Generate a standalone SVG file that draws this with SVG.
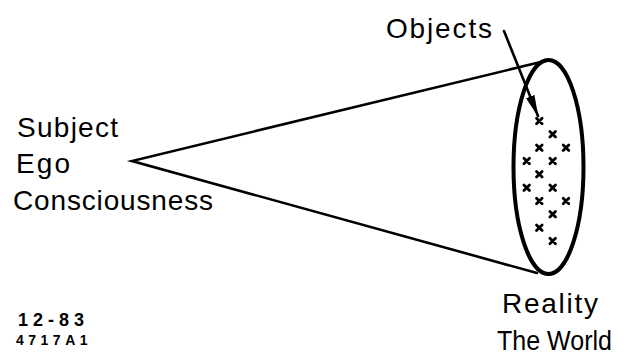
<svg xmlns="http://www.w3.org/2000/svg" width="626" height="358" viewBox="0 0 626 358">
  <style>
    .label { font-family: "Liberation Sans", Arial, sans-serif; font-size: 28px; fill: #000; }
    .code { font-family: "Liberation Sans", Arial, sans-serif; font-weight: bold; fill: #000; }
    .edge { fill: none; stroke: #000; stroke-width: 2.6; stroke-linecap: round; }
    .rim { fill: none; stroke: #000; stroke-width: 4; }
    .obj { stroke: #000; stroke-width: 2.8; stroke-linecap: round; }
  </style>
  <defs>
    <marker id="head" viewBox="0 0 22 9" refX="21" refY="4.5" markerWidth="22" markerHeight="9" markerUnits="userSpaceOnUse" orient="auto">
      <path d="M0,0 L22,4.5 L0,9 Z" fill="#000"/>
    </marker>
    <path id="x" d="M-2.8,-2.8 L2.8,2.8 M-2.8,2.8 L2.8,-2.8"/>
  </defs>
  <rect width="626" height="358" fill="#fff"/>

  <!-- cone sides from the subject to the world, plus the pointer to the objects -->
  <g id="connectors">
    <path class="edge" d="M545,61 L132,161 L537,273"/>
    <path class="edge" d="M504,31 L538,116" marker-end="url(#head)"/>
  </g>

  <g id="subject">
    <text class="label" x="17" y="137" textLength="101" lengthAdjust="spacing">Subject</text>
    <text class="label" x="16" y="173" textLength="54" lengthAdjust="spacing">Ego</text>
    <text class="label" x="13" y="210" textLength="200" lengthAdjust="spacing">Consciousness</text>
  </g>

  <g id="world">
    <ellipse class="rim" cx="548.5" cy="167" rx="35" ry="107"/>
    <g class="obj">
      <use href="#x" x="539.3" y="121"/>
      <use href="#x" x="552.7" y="134.3"/>
      <use href="#x" x="539.3" y="147.7"/>
      <use href="#x" x="566" y="147.7"/>
      <use href="#x" x="526.7" y="161"/>
      <use href="#x" x="552.7" y="161"/>
      <use href="#x" x="539.3" y="174.3"/>
      <use href="#x" x="526.7" y="187.7"/>
      <use href="#x" x="552.7" y="187.7"/>
      <use href="#x" x="539.3" y="201"/>
      <use href="#x" x="566" y="201"/>
      <use href="#x" x="552.7" y="214.3"/>
      <use href="#x" x="539.3" y="227.7"/>
      <use href="#x" x="552.7" y="241"/>
    </g>
    <text class="label" x="502" y="313" textLength="96" lengthAdjust="spacing">Reality</text>
    <text class="label" x="497" y="350" textLength="115" lengthAdjust="spacingAndGlyphs">The World</text>
  </g>

  <g id="objects">
    <text class="label" x="386" y="38" textLength="106" lengthAdjust="spacing">Objects</text>
  </g>

  <g id="figure-code">
    <text class="code" x="18" y="326" font-size="18" letter-spacing="5">12-83</text>
    <text class="code" x="16" y="345" font-size="14" letter-spacing="4.5">4717A1</text>
  </g>
</svg>
